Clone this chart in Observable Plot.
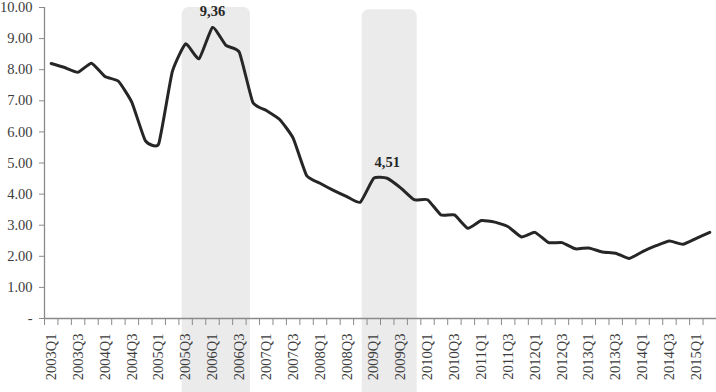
<!DOCTYPE html>
<html>
<head>
<meta charset="utf-8">
<script src="https://cdn.jsdelivr.net/npm/d3@7"></script>
<script src="https://cdn.jsdelivr.net/npm/@observablehq/plot@0.6"></script>
<style>
  html, body { margin: 0; padding: 0; background: #fff; }
  #chart svg { display: block; }
</style>
</head>
<body>
<div id="chart"></div>
<script>
const quarters = [
  "2003Q1","2003Q2","2003Q3","2003Q4",
  "2004Q1","2004Q2","2004Q3","2004Q4",
  "2005Q1","2005Q2","2005Q3","2005Q4",
  "2006Q1","2006Q2","2006Q3","2006Q4",
  "2007Q1","2007Q2","2007Q3","2007Q4",
  "2008Q1","2008Q2","2008Q3","2008Q4",
  "2009Q1","2009Q2","2009Q3","2009Q4",
  "2010Q1","2010Q2","2010Q3","2010Q4",
  "2011Q1","2011Q2","2011Q3","2011Q4",
  "2012Q1","2012Q2","2012Q3","2012Q4",
  "2013Q1","2013Q2","2013Q3","2013Q4",
  "2014Q1","2014Q2","2014Q3","2014Q4",
  "2015Q1","2015Q2"
];
const values = [
  8.20, 8.07, 7.92, 8.21,
  7.78, 7.63, 6.95, 5.72,
  5.62, 7.92, 8.83, 8.35,
  9.36, 8.78, 8.56, 6.95,
  6.69, 6.40, 5.80, 4.60,
  4.35, 4.12, 3.92, 3.74,
  4.51, 4.51, 4.20, 3.82,
  3.82, 3.33, 3.33, 2.90,
  3.15, 3.10, 2.95, 2.62,
  2.77, 2.44, 2.44, 2.24,
  2.27, 2.14, 2.10, 1.93,
  2.15, 2.34, 2.49, 2.39,
  2.58, 2.77
];
// shaded periods, in quarter-index units (center of quarter i = i)
const shadeStart = [9.75, 23.14];
const shadeEnd = [14.83, 27.23];
const shadeTop = [10, 9.93];
// annotated quarters
const annotated = ["2006Q1", "2009Q2"];
const yTicks = [0, 1, 2, 3, 4, 5, 6, 7, 8, 9, 10];

const data = quarters.map((q, i) => ({i, q, v: values[i]}));
const shades = shadeStart.map((s, k) => ({x1: s, x2: shadeEnd[k], top: shadeTop[k]}));
const notes = data.filter(d => annotated.includes(d.q));
const boundaries = quarters.map((q, i) => i - 0.5).concat([quarters.length - 0.5]);
const labelTicks = data.filter((d, i) => i % 2 === 0).map(d => d.i);

const W = 716, H = 392;
const mTop = 7, mBottom = 74, mLeft = 44, mRight = 0;
const font = "Liberation Serif, Times New Roman, serif";

const chart = Plot.plot({
  width: W,
  height: H,
  marginTop: mTop,
  marginBottom: mBottom,
  marginLeft: mLeft,
  marginRight: mRight,
  style: {fontFamily: font, fontSize: "14.5px", background: "#fff", overflow: "visible"},
  x: {domain: [-0.5, quarters.length - 0.5], axis: null},
  y: {domain: [0, 10], axis: null},
  marks: [
    Plot.rect(shades, {
      x1: "x1", x2: "x2", y1: 0, y2: "top",
      fill: "#ebebec", rx: 7, insetBottom: -mBottom - 10
    }),
    Plot.axisY({
      ticks: yTicks, tickSize: 5, tickPadding: 7, stroke: "#8a8a8a",
      fill: "#3c3c3c", fontSize: 14.5,
      tickFormat: d => d === 0 ? "-" : d.toFixed(2)
    }),
    Plot.axisX({
      ticks: boundaries, tickSize: 7, stroke: "#8a8a8a", tickFormat: () => ""
    }),
    Plot.axisX({
      ticks: labelTicks, tickSize: 0, tickPadding: 15, tickRotate: -90,
      fill: "#3c3c3c", fontSize: 14.5,
      tickFormat: i => quarters[i]
    }),
    Plot.ruleX([-0.5], {stroke: "#8a8a8a", strokeWidth: 1.3}),
    Plot.ruleY([0], {stroke: "#8a8a8a", strokeWidth: 1.3}),
    Plot.line(data, {
      x: "i", y: "v", stroke: "#262626", strokeWidth: 3,
      curve: "cardinal", tension: 0.55, strokeLinejoin: "round", strokeLinecap: "round"
    }),
    Plot.text(notes, {
      x: "i", y: "v", text: d => d.v.toFixed(2).replace(".", ","),
      dy: -11, lineAnchor: "bottom", fontWeight: "bold", fontSize: 14.5,
      fill: "#262626"
    })
  ]
});
document.getElementById("chart").appendChild(chart);
</script>
</body>
</html>
